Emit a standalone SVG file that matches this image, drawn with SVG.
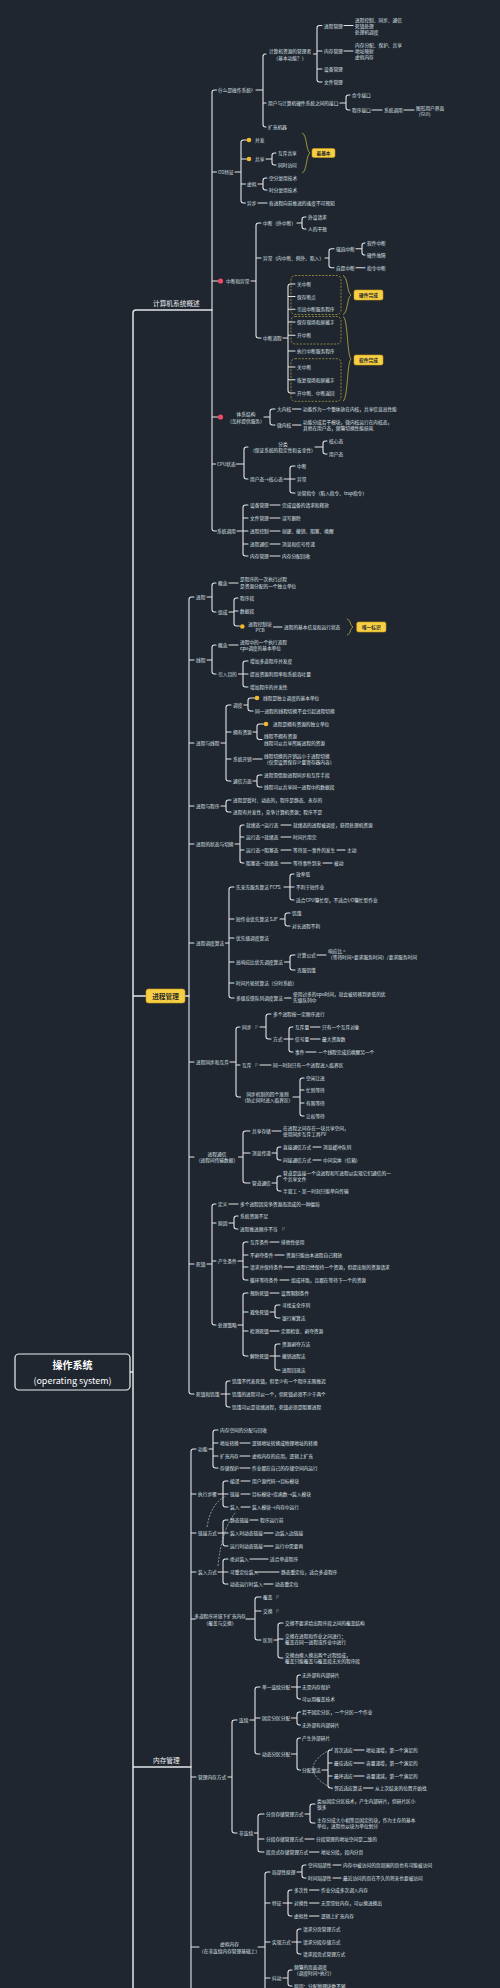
<svg xmlns="http://www.w3.org/2000/svg" width="500" height="1988" viewBox="0 0 500 1988">
<style>
.t{font-family:"Noto Sans CJK SC","Noto Sans",sans-serif;font-size:4.7px;fill:#dfe3e8;dominant-baseline:central}
.c{text-anchor:middle}
.h{font-size:6.7px;fill:#eef0f2}
.ln{fill:none;stroke:#e4e6e9;stroke-width:1.1;stroke-linecap:round}
.mn{fill:none;stroke:#e4e6e9;stroke-width:1.5;stroke-linecap:round}
.tg rect{fill:#f7cf45;stroke:#c99a12;stroke-width:.6}
.tg text{font-family:"Noto Sans CJK SC","Noto Sans",sans-serif;fill:#2b2b2b;font-weight:bold;text-anchor:middle;dominant-baseline:central;font-size:4.7px}
.bc{fill:none;stroke:#b9ae45;stroke-width:.8}
.ds{fill:none;stroke:#b9ae45;stroke-width:.7;stroke-dasharray:2 1.4}
.rl{fill:none;stroke:#c4c8cd;stroke-width:.7;stroke-dasharray:2 1.4}
.yd{fill:#f4b829}
.rd{fill:#ef4b66}
.ic{fill:#8a919a}
</style>
<rect width="500" height="1988" fill="#1f2630"/>

<g id="connectors">
<path class="mn" d="M212,310H136Q133,310 133,313V1988M130,1372H133M133,996H146M185,996H189M133,1767H191"/>
<path class="ln" d="M216.5,90H214.5Q212,90 212,92.5V528.5Q212,531 214.5,531H216.5M212,172H216.5M212,281H217.5M212,417H217.5M212,464H215.5"/>
<path class="ln" d="M256,90H263M266,54H265.5Q263,54 263,56.5V124.5Q263,127 265.5,127H266M263,103H266"/>
<path class="ln" d="M313.5,54H317M322,25.5H319.5Q317,25.5 317,28V79.5Q317,82 319.5,82H322M317,51H322M317,69H322M344,25.5H353M344,51H353"/>
<path class="ln" d="M340,103H346M350,95H348.5Q346,95 346,97.5V107.5Q346,110 348.5,110H350M372,110H382M404,110H414"/>
<path class="ln" d="M235,172H241M246.5,140H243.5Q241,140 241,142.5V200.5Q241,203 243.5,203H245.5M241,159H246.5M241,184H245.5"/>
<path class="ln" d="M266,159H272M276,153H274.5Q272,153 272,155.5V162.5Q272,165 274.5,165H276M258,184H263M267,178H265.5Q263,178 263,180.5V187.5Q263,190 265.5,190H267M258,203H267"/>
<path class="ln" d="M251,281H256M261,223H258.5Q256,223 256,225.5V335.5Q256,338 258.5,338H261M256,258H261M297,223H302M306,217H304.5Q302,217 302,219.5V226.5Q302,229 304.5,229H306M325,258H329M334,248.7H331.5Q329,248.7 329,251.2V265.2Q329,267.7 331.5,267.7H334M356,248.7H362M365,243H364.5Q362,243 362,245.5V252.5Q362,255 364.5,255H365M356,267.7H365"/>
<path class="ln" d="M283,338H288M295,284H290.5Q288,284 288,286.5V390.5Q288,393 290.5,393H295M288,296.5H295M288,309.3H295M288,322H295M288,335.3H295M288,351H295M288,367H295M288,379.7H295"/>
<path class="ln" d="M264,417H270M275,409H272.5Q270,409 270,411.5V422.5Q270,425 272.5,425H275M292.5,409H301M292.5,425H301"/>
<path class="ln" d="M236.5,464H244M248,447H246.5Q244,447 244,449.5V476.5Q244,479 246.5,479H248M315,447H323M327,441H325.5Q323,441 323,443.5V451.5Q323,454 325.5,454H327M284,479H290M295,466H292.5Q290,466 290,468.5V490.5Q290,493 292.5,493H295M290,479H295"/>
<path class="ln" d="M237,531H243M248,505H245.5Q243,505 243,507.5V553.5Q243,556 245.5,556H248M243,518H248M243,531H248M243,544H248M270,505H280M270,518H280M270,531H280M270,544H280M270,556H280"/>
<path class="ln" d="M194,597H191.5Q189,597 189,599.5V1391.5Q189,1394 191.5,1394H194M189,660H194M189,743H194M189,806H194M189,844H194M189,943H194M189,1062H194M189,1157H194M189,1264H194"/>
<path class="ln" d="M207,597H212M216,583H214.5Q212,583 212,585.5V609.5Q212,612 214.5,612H216M229,583H238M229,612H234M238,598H236.5Q234,598 234,600.5V623.5Q234,626 236.5,626H239.5M234,611H238M273.5,627H282"/>
<path class="ln" d="M207,660H212M216,645H214.5Q212,645 212,647.5V671.5Q212,674 214.5,674H216M229,645H238M238.5,674H243M248,661H245.5Q243,661 243,663.5V684.5Q243,687 245.5,687H248M243,674H248"/>
<path class="ln" d="M221,743H226M231,705H228.5Q226,705 226,707.5V778.5Q226,781 228.5,781H231M226,732H231M226,759H231M244,705H248M254.5,698H250.5Q248,698 248,700.5V708.5Q248,711 250.5,711H253M253,732H257M263.5,724H259.5Q257,724 257,726.5V737Q257,739.5 259.5,739.5H262M253,759H262M253,781H257M262,775H259.5Q257,775 257,777.5V784.5Q257,787 259.5,787H262"/>
<path class="ln" d="M221,806H226M231,800H228.5Q226,800 226,802.5V809.5Q226,812 228.5,812H231"/>
<path class="ln" d="M235,844H240M244,825H242.5Q240,825 240,827.5V860.5Q240,863 242.5,863H244M240,837H244M240,850H244M281,825H291M281,837H291M281,850H291M281,863H291M337,850H345M323,863H332"/>
<path class="ln" d="M225.5,943H229M234,887H231.5Q229,887 229,889.5V995.5Q229,998 231.5,998H234M229,919H234M229,938H234M229,962H234M229,983H234M284,887H290M294,874H292.5Q290,874 290,876.5V897.5Q290,900 292.5,900H294M290,887H294M280,919H285M290,913H287.5Q285,913 285,915.5V923.5Q285,926 287.5,926H290M284.5,962H290M295,955H292.5Q290,955 290,957.5V967.5Q290,970 292.5,970H295M317,955H326M284.5,998H291"/>
<path class="ln" d="M230,1062H236M240,1027H238.5Q236,1027 236,1029.5V1094.5Q236,1097 238.5,1097H240.5M236,1065H240M260,1027H266M271,1014H268.5Q266,1014 266,1016.5V1036.5Q266,1039 268.5,1039H271M284,1039H289M293,1027H291.5Q289,1027 289,1029.5V1049.5Q289,1052 291.5,1052H293M289,1039H293M310.5,1027H320M310.5,1039H320M306,1052H316M260,1065H271M293,1097H300M304,1078H302.5Q300,1078 300,1080.5V1113.5Q300,1116 302.5,1116H304M300,1090H304M300,1103H304"/>
<path class="ln" d="M238.5,1157H243M250,1131H245.5Q243,1131 243,1133.5V1180.5Q243,1183 245.5,1183H250M243,1153H250M272,1131H281M272,1153H277M281,1147H279.5Q277,1147 277,1149.5V1157.5Q277,1160 279.5,1160H281M313,1147H321M313,1160H321M272,1183H277M281,1176H279.5Q277,1176 277,1178.5V1188.5Q277,1191 279.5,1191H281"/>
<path class="ln" d="M207,1264H212M216,1204H214.5Q212,1204 212,1206.5V1322.5Q212,1325 214.5,1325H216M212,1223H216M212,1261H216M229,1204H238M229,1223H234M238,1216H236.5Q234,1216 234,1218.5V1226.5Q234,1229 236.5,1229H238M238,1261H243M248,1242H245.5Q243,1242 243,1244.5V1277.5Q243,1280 245.5,1280H248M243,1255H248M243,1267H248M270,1242H279M275,1255H284M284,1267H294M280,1280H289"/>
<path class="ln" d="M238,1325H243M248,1293H245.5Q243,1293 243,1295.5V1353.5Q243,1356 245.5,1356H248M243,1312H248M243,1331H248M270,1293H279M270,1312H275M280,1305H277.5Q275,1305 275,1307.5V1315.5Q275,1318 277.5,1318H280M270,1331H279M270,1356H275M280,1344H277.5Q275,1344 275,1346.5V1367.5Q275,1370 277.5,1370H280M275,1356H280"/>
<path class="ln" d="M221,1394H226M230,1381H228.5Q226,1381 226,1383.5V1404.5Q226,1407 228.5,1407H230M226,1394H230"/>
<path class="ln" d="M196,1449H193.5Q191,1449 191,1451.5V1988M191,1494H196M191,1533H196M191,1572H196M191,1619H195M191,1777H196M191,1947H199"/>
<path class="ln" d="M209,1449H213M218,1430H215.5Q213,1430 213,1432.5V1465.5Q213,1468 215.5,1468H218M213,1443H218M213,1456H218M240,1443H250M240,1456H250M240,1468H250"/>
<path class="ln" d="M218,1494H223M228,1481H225.5Q223,1481 223,1483.5V1504.5Q223,1507 225.5,1507H228M223,1494H228M241,1481H250M241,1494H250M241,1507H250"/>
<path class="ln" d="M218,1533H223M228,1520H225.5Q223,1520 223,1522.5V1543.5Q223,1546 225.5,1546H228M223,1533H228M250,1520H258M264,1533H273M264,1546H273"/>
<path class="ln" d="M218,1572H223M228,1559H225.5Q223,1559 223,1561.5V1581.5Q223,1584 225.5,1584H228M223,1572H228M250,1559H268M255,1572H279M264,1584H273"/>
<path class="ln" d="M246,1619H255M261,1597H257.5Q255,1597 255,1599.5V1637.5Q255,1640 257.5,1640H261M255,1611H261M274,1640H278M283,1623H280.5Q278,1623 278,1625.5V1655.5Q278,1658 280.5,1658H283M278,1639H283"/>
<path class="ln" d="M228,1777H232M237,1720H234.5Q232,1720 232,1722.5V1830.5Q232,1833 234.5,1833H237M250,1720H255M260,1687H257.5Q255,1687 255,1689.5V1751.5Q255,1754 257.5,1754H260M255,1718H260"/>
<path class="ln" d="M291.5,1687H297M300.5,1675H299.5Q297,1675 297,1677.5V1696.5Q297,1699 299.5,1699H300.5M297,1687H300.5M291.5,1718H297M300.5,1712H299.5Q297,1712 297,1714.5V1722.5Q297,1725 299.5,1725H300.5M291.5,1754H297M300.5,1738H299.5Q297,1738 297,1740.5V1767.5Q297,1770 299.5,1770H300.5"/>
<path class="ln" d="M322,1770H328M332,1750H330.5Q328,1750 328,1752.5V1785.5Q328,1788 330.5,1788H332M328,1763H332M328,1776H332M354,1750H364M354,1763H364M354,1776H364M363.5,1788H373"/>
<path class="ln" d="M254.5,1833H258M264,1814H260.5Q258,1814 258,1816.5V1849.5Q258,1852 260.5,1852H264M258,1839H264M305,1814H310M315,1804H312.5Q310,1804 310,1806.5V1820.5Q310,1823 312.5,1823H315M305,1839H314M309.5,1852H319"/>
<path class="ln" d="M258,1947H265M270,1872H267.5Q265,1872 265,1874.5V1988M265,1903H270M265,1942H270M265,1978H270M297,1872H302M306,1865H304.5Q302,1865 302,1867.5V1875.5Q302,1878 304.5,1878H306M333,1865H341M333,1878H341"/>
<path class="ln" d="M283,1903H288M292,1890H290.5Q288,1890 288,1892.5V1913.5Q288,1916 290.5,1916H292M288,1903H292M309.5,1890H319M309.5,1903H319M309.5,1916H319M292,1942H297M301,1929H299.5Q297,1929 297,1931.5V1951.5Q297,1954 299.5,1954H301M297,1942H301M283,1978H288M292,1970H290.5Q288,1970 288,1972.5V1983.5Q288,1986 290.5,1986H292"/>
<path class="rl" d="M207,1527Q211,1503 226,1496M218,1566Q222,1528 236,1512M333,1748Q293,1768.5 333,1789"/>
</g>

<g id="decor">
<path class="bc" d="M302,133C307,134 306,151 310,153C306,155 307,172 302,173"/>
<rect class="ds" x="291" y="275.5" width="50" height="39" rx="4"/>
<rect class="ds" x="291" y="316.5" width="50" height="27.5" rx="4"/>
<rect class="ds" x="291" y="358.7" width="50" height="42.6" rx="4"/>
<path class="bc" d="M343,275.5C348,277 347,293 351,295C347,297 348,313 343,314.5"/>
<path class="bc" d="M343,316.5C348,318 347,356 351,359C347,362 348,399 343,401"/>
<path class="bc" d="M347,619C351,620 350,626 353,627C350,628 351,634 347,635"/>
</g>

<g id="root"><rect x="15" y="1354" width="115" height="36" rx="4" fill="#1f2630" stroke="#eef0f2" stroke-width="1.2"/><text class="t c" x="72.5" y="1364.5" style="font-size:10px;font-weight:bold;fill:#fff">操作系统</text><text class="t c" x="72.5" y="1380" style="font-size:9px;fill:#fff">(operating system)</text></g>

<g id="b-overview"><text class="t h" x="153" y="302.5">计算机系统概述</text></g>
<g id="b-process" class="tg"><rect x="146" y="989" width="39" height="14" rx="2.5"/><text x="165.5" y="996" style="font-size:6.7px">进程管理</text></g>
<g id="b-memory"><text class="t h" x="153" y="1759.5">内存管理</text></g>

<g id="a1"><text class="t" x="218" y="90">什么是操作系统?</text></g>
<g id="a1a"><text class="t c"><tspan x="290" y="51">计算机资源的管理者</tspan><tspan x="290" y="57.5">（基本功能？）</tspan></text></g>
<g id="a1a1"><text class="t" x="324" y="25.5">进程管理</text></g>
<g id="a1a1x"><text class="t"><tspan x="355" y="19.5">进程控制、同步、通信</tspan><tspan x="355" y="25.5">死锁处理</tspan><tspan x="355" y="31.5">处理机调度</tspan></text></g>
<g id="a1a2"><text class="t" x="324" y="51">内存管理</text></g>
<g id="a1a2x"><text class="t"><tspan x="355" y="44.5">内存分配、保护、共享</tspan><tspan x="355" y="50.7">地址映射</tspan><tspan x="355" y="56.9">虚拟内存</tspan></text></g>
<g id="a1a3"><text class="t" x="324" y="69">设备管理</text></g>
<g id="a1a4"><text class="t" x="324" y="82">文件管理</text></g>
<g id="a1b"><text class="t" x="268" y="103">用户与计算机硬件系统之间的接口</text></g>
<g id="a1b1"><text class="t" x="352" y="95">命令接口</text></g>
<g id="a1b2"><text class="t" x="352" y="110">程序接口</text></g>
<g id="a1b3"><text class="t" x="384" y="110">系统调用</text></g>
<g id="a1b4"><text class="t"><tspan x="416" y="108">图形用户界面</tspan><tspan x="416" y="114.3">（GUI）</tspan></text></g>
<g id="a1c"><text class="t" x="268" y="127">扩充机器</text></g>
<g id="a2"><text class="t" x="218" y="172">OS特征</text></g>
<g id="a2a"><circle class="yd" cx="249" cy="140" r="2.3"/><text class="t" x="255" y="140">并发</text></g>
<g id="a2b"><circle class="yd" cx="249" cy="159" r="2.3"/><text class="t" x="255" y="159">共享</text></g>
<g id="a2b1"><text class="t" x="278" y="153">互斥共享</text></g>
<g id="a2b2"><text class="t" x="278" y="165">同时访问</text></g>
<g id="tag1" class="tg"><rect x="312" y="148.5" width="23" height="9" rx="1.8"/><text x="323.5" y="153">最基本</text></g>
<g id="a2c"><text class="t" x="247" y="184">虚拟</text></g>
<g id="a2c1"><text class="t" x="269" y="178">空分复用技术</text></g>
<g id="a2c2"><text class="t" x="269" y="190">时分复用技术</text></g>
<g id="a2d"><text class="t" x="247" y="203">异步</text></g>
<g id="a2d1"><text class="t" x="269" y="203">各进程向前推进的速度不可预知</text></g>
<g id="a3"><circle class="rd" cx="220.5" cy="281" r="2.6"/><text class="t" x="226" y="281">中断和异常</text></g>
<g id="a3a"><text class="t" x="263" y="223">中断（外中断）</text></g>
<g id="a3a1"><text class="t" x="308" y="217">外设请求</text></g>
<g id="a3a2"><text class="t" x="308" y="229">人的干预</text></g>
<g id="a3b"><text class="t" x="263" y="258">异常（内中断、例外、陷入）</text></g>
<g id="a3b1"><text class="t" x="336" y="248.7">强迫中断</text></g>
<g id="a3b1a"><text class="t" x="367" y="243">软件中断</text></g>
<g id="a3b1b"><text class="t" x="367" y="255">硬件故障</text></g>
<g id="a3b2"><text class="t" x="336" y="267.7">自愿中断</text></g>
<g id="a3b2a"><text class="t" x="367" y="267.7">指令中断</text></g>
<g id="a3c"><text class="t" x="263" y="338">中断流程</text></g>
<g id="a3c1"><text class="t" x="297" y="284">关中断</text></g>
<g id="a3c2"><text class="t" x="297" y="296.5">保存断点</text></g>
<g id="a3c3"><text class="t" x="297" y="309.3">引出中断服务程序</text></g>
<g id="a3c4"><text class="t" x="297" y="322">保存现场和屏蔽字</text></g>
<g id="a3c5"><text class="t" x="297" y="335.3">开中断</text></g>
<g id="a3c6"><text class="t" x="297" y="351">执行中断服务程序</text></g>
<g id="a3c7"><text class="t" x="297" y="367">关中断</text></g>
<g id="a3c8"><text class="t" x="297" y="379.7">恢复现场和屏蔽字</text></g>
<g id="a3c9"><text class="t" x="297" y="393">开中断、中断返回</text></g>
<g id="tag2" class="tg"><rect x="354" y="290" width="29" height="10" rx="1.8"/><text x="368.5" y="295">硬件完成</text></g>
<g id="tag3" class="tg"><rect x="354" y="355" width="29" height="10" rx="1.8"/><text x="368.5" y="360">软件完成</text></g>
<g id="a4"><circle class="rd" cx="220.5" cy="417" r="2.6"/><text class="t c"><tspan x="246" y="414">体系结构</tspan><tspan x="246" y="420.6">（怎样提供服务）</tspan></text></g>
<g id="a4a"><text class="t" x="277" y="409">大内核</text></g>
<g id="a4a1"><text class="t" x="303" y="409">功能作为一个整体放在内核，共享信息高性能</text></g>
<g id="a4b"><text class="t" x="277" y="425">微内核</text></g>
<g id="a4b1"><text class="t"><tspan x="303" y="421.7">功能分成若干模块，微内核运行在内核态，</tspan><tspan x="303" y="428.3">其他在用户态，频繁切换性能损耗</tspan></text></g>
<g id="a5"><text class="t" x="217" y="464">CPU状态</text></g>
<g id="a5a"><text class="t c"><tspan x="283" y="443.5">分类</tspan><tspan x="283" y="450">（保证系统的稳定性和安全性）</tspan></text></g>
<g id="a5a1"><text class="t" x="329" y="441">核心态</text></g>
<g id="a5a2"><text class="t" x="329" y="454">用户态</text></g>
<g id="a5b"><text class="t" x="250" y="479">用户态→核心态</text></g>
<g id="a5b1"><text class="t" x="297" y="466">中断</text></g>
<g id="a5b2"><text class="t" x="297" y="479">异常</text></g>
<g id="a5b3"><text class="t" x="297" y="493">访管指令（陷入指令、trap指令）</text></g>
<g id="a6"><text class="t" x="217" y="531">系统调用</text></g>
<g id="a6a"><text class="t" x="250" y="505">设备管理</text></g>
<g id="a6a1"><text class="t" x="282" y="505">完成设备的请求和释放</text></g>
<g id="a6b"><text class="t" x="250" y="518">文件管理</text></g>
<g id="a6b1"><text class="t" x="282" y="518">读写删除</text></g>
<g id="a6c"><text class="t" x="250" y="531">进程控制</text></g>
<g id="a6c1"><text class="t" x="282" y="531">创建、撤销、阻塞、唤醒</text></g>
<g id="a6d"><text class="t" x="250" y="544">进程通信</text></g>
<g id="a6d1"><text class="t" x="282" y="544">消息和信号传递</text></g>
<g id="a6e"><text class="t" x="250" y="556">内存管理</text></g>
<g id="a6e1"><text class="t" x="282" y="556">内存分配回收</text></g>

<g id="p1"><text class="t" x="196" y="597">进程</text></g>
<g id="p1a"><text class="t" x="218" y="583">概念</text></g>
<g id="p1a1"><text class="t"><tspan x="240" y="579">是程序的一次执行过程</tspan><tspan x="240" y="585.5">是资源分配的一个独立单位</tspan></text></g>
<g id="p1b"><text class="t" x="218" y="612">组成</text></g>
<g id="p1b1"><text class="t" x="240" y="598">程序段</text></g>
<g id="p1b2"><text class="t" x="240" y="611">数据段</text></g>
<g id="p1b3"><circle class="yd" cx="242.3" cy="626.5" r="2.3"/><text class="t c"><tspan x="260" y="624">进程控制块</tspan><tspan x="260" y="630.3">PCB</tspan></text></g>
<g id="p1b3a"><text class="t" x="284" y="627">进程的基本信息和运行状态</text></g>
<g id="tag4" class="tg"><rect x="356.7" y="622" width="29.3" height="10" rx="1.8"/><text x="371.3" y="627">唯一标识</text></g>
<g id="p2"><text class="t" x="196" y="660">线程</text></g>
<g id="p2a"><text class="t" x="218" y="645">概念</text></g>
<g id="p2a1"><text class="t"><tspan x="240" y="642">进程中的一个执行流程</tspan><tspan x="240" y="648.3">cpu调度的基本单位</tspan></text></g>
<g id="p2b"><text class="t" x="218" y="674">引入目的</text></g>
<g id="p2b1"><text class="t" x="250" y="661">增加多道程序并发度</text></g>
<g id="p2b2"><text class="t" x="250" y="674">提高资源利用率和系统吞吐量</text></g>
<g id="p2b3"><text class="t" x="250" y="687">增加程序的并发性</text></g>
<g id="p3"><text class="t" x="196" y="743">进程与线程</text></g>
<g id="p3a"><text class="t" x="233" y="705">调度</text></g>
<g id="p3a1"><circle class="yd" cx="257" cy="698" r="2.3"/><text class="t" x="263" y="698">线程是独立调度的基本单位</text></g>
<g id="p3a2"><text class="t" x="255" y="711">同一进程的线程切换不会引起进程切换</text></g>
<g id="p3b"><text class="t" x="233" y="732">拥有资源</text></g>
<g id="p3b1"><circle class="yd" cx="266" cy="724" r="2.3"/><text class="t" x="273" y="724">进程是拥有资源的独立单位</text></g>
<g id="p3b2"><text class="t"><tspan x="264" y="736.3">线程不拥有资源</tspan><tspan x="264" y="742.7">线程可以共享所属进程的资源</tspan></text></g>
<g id="p3c"><text class="t" x="233" y="759">系统开销</text></g>
<g id="p3c1"><text class="t"><tspan x="264" y="755.5">线程切换的开销远小于进程切换</tspan><tspan x="264" y="762">（仅需设置保存少量寄存器内容）</tspan></text></g>
<g id="p3d"><text class="t" x="233" y="781">通信方面</text></g>
<g id="p3d1"><text class="t" x="264" y="775">进程需借助进程同步和互斥手段</text></g>
<g id="p3d2"><text class="t" x="264" y="787">线程可以共享同一进程中的数据段</text></g>
<g id="p4"><text class="t" x="196" y="806">进程与程序</text></g>
<g id="p4a"><text class="t" x="233" y="800">进程是暂时、动态的，程序是静态、永存的</text></g>
<g id="p4b"><text class="t" x="233" y="812">进程有并发性，竞争计算机资源；程序不是</text></g>
<g id="p5"><text class="t" x="196" y="844">进程的状态与切换</text></g>
<g id="p5a"><text class="t" x="246" y="825">就绪态-&gt;运行态</text></g>
<g id="p5a1"><text class="t" x="293" y="825">就绪态的进程被调度，获得处理机资源</text></g>
<g id="p5b"><text class="t" x="246" y="837">运行态-&gt;就绪态</text></g>
<g id="p5b1"><text class="t" x="293" y="837">时间片用完</text></g>
<g id="p5c"><text class="t" x="246" y="850">运行态-&gt;阻塞态</text></g>
<g id="p5c1"><text class="t" x="293" y="850">等待某一事件的发生</text></g>
<g id="p5c2"><text class="t" x="347" y="850">主动</text></g>
<g id="p5d"><text class="t" x="246" y="863">阻塞态-&gt;就绪态</text></g>
<g id="p5d1"><text class="t" x="293" y="863">等待事件到来</text></g>
<g id="p5d2"><text class="t" x="334" y="863">被动</text></g>
<g id="p6"><text class="t" x="196" y="943">进程调度算法</text></g>
<g id="p6a"><text class="t" x="236" y="887">先来先服务算法 FCFS</text></g>
<g id="p6a1"><text class="t" x="296" y="874">效率低</text></g>
<g id="p6a2"><text class="t" x="296" y="887">不利于短作业</text></g>
<g id="p6a3"><text class="t" x="296" y="900">适合CPU繁忙型，不适合I/O繁忙型作业</text></g>
<g id="p6b"><text class="t" x="236" y="919">短作业优先算法 SJF</text></g>
<g id="p6b1"><text class="t" x="292" y="913">饥饿</text></g>
<g id="p6b2"><text class="t" x="292" y="926">对长进程不利</text></g>
<g id="p6c"><text class="t" x="236" y="938">优先级调度算法</text></g>
<g id="p6d"><text class="t" x="236" y="962">高响应比优先调度算法</text></g>
<g id="p6d1"><text class="t" x="297" y="955">计算公式</text></g>
<g id="p6d1a"><text class="t"><tspan x="328" y="951">响应比 =</tspan><tspan x="328" y="957.3">（等待时间+要求服务时间）/要求服务时间</tspan></text></g>
<g id="p6d2"><text class="t" x="297" y="970">克服饥饿</text></g>
<g id="p6e"><text class="t" x="236" y="983">时间片轮转算法（分时系统）</text></g>
<g id="p6f"><text class="t" x="236" y="998">多级反馈队列调度算法</text></g>
<g id="p6f1"><text class="t"><tspan x="293" y="994">使用过多的cpu时间，就会被转移到更低的优</tspan><tspan x="293" y="1000.3">先级队列中</tspan></text></g>
<g id="p7"><text class="t" x="196" y="1062">进程同步和互斥</text></g>
<g id="p7a"><text class="t" x="242" y="1027">同步</text><text class="t ic" x="255" y="1027">P</text></g>
<g id="p7a1"><text class="t" x="273" y="1014">多个进程按一定顺序进行</text></g>
<g id="p7a2"><text class="t" x="273" y="1039">方式</text></g>
<g id="p7a2a"><text class="t" x="295" y="1027">互斥量</text></g>
<g id="p7a2a1"><text class="t" x="322" y="1027">只有一个互斥对象</text></g>
<g id="p7a2b"><text class="t" x="295" y="1039">信号量</text></g>
<g id="p7a2b1"><text class="t" x="322" y="1039">最大资源数</text></g>
<g id="p7a2c"><text class="t" x="295" y="1052">事件</text></g>
<g id="p7a2c1"><text class="t" x="318" y="1052">一个线程完成后唤醒另一个</text></g>
<g id="p7b"><text class="t" x="242" y="1065">互斥</text><text class="t ic" x="255" y="1065">P</text></g>
<g id="p7b1"><text class="t" x="273" y="1065">同一时刻只有一个进程进入临界区</text></g>
<g id="p7c"><text class="t c"><tspan x="267.5" y="1094">同步机制的四个准则</tspan><tspan x="267.5" y="1100.3">（防止同时进入临界区）</tspan></text></g>
<g id="p7c1"><text class="t" x="306" y="1078">空闲让进</text></g>
<g id="p7c2"><text class="t" x="306" y="1090">忙则等待</text></g>
<g id="p7c3"><text class="t" x="306" y="1103">有限等待</text></g>
<g id="p7c4"><text class="t" x="306" y="1116">让权等待</text></g>
<g id="p8"><text class="t c"><tspan x="217" y="1154">进程通信</tspan><tspan x="217" y="1160.3">（进程间传输数据）</tspan></text></g>
<g id="p8a"><text class="t" x="252" y="1131">共享存储</text></g>
<g id="p8a1"><text class="t"><tspan x="283" y="1128">在进程之间存在一块共享空间，</tspan><tspan x="283" y="1134.3">使用同步互斥工具PV</tspan></text></g>
<g id="p8b"><text class="t" x="252" y="1153">消息传递</text></g>
<g id="p8b1"><text class="t" x="283" y="1147">直接通信方式</text></g>
<g id="p8b1a"><text class="t" x="323" y="1147">消息缓冲队列</text></g>
<g id="p8b2"><text class="t" x="283" y="1160">间接通信方式</text></g>
<g id="p8b2a"><text class="t" x="323" y="1160">中间实体（信箱）</text></g>
<g id="p8c"><text class="t" x="252" y="1183">管道通信</text></g>
<g id="p8c1"><text class="t"><tspan x="283" y="1173">管道是连接一个读进程和写进程以实现它们通信的一</tspan><tspan x="283" y="1179.3">个共享文件</tspan></text></g>
<g id="p8c2"><text class="t" x="283" y="1191">半双工·某一时刻只能单向传输</text></g>
<g id="p9"><text class="t" x="196" y="1264">死锁</text></g>
<g id="p9a"><text class="t" x="218" y="1204">定义</text></g>
<g id="p9a1"><text class="t" x="240" y="1204">多个进程因竞争资源而造成的一种僵局</text></g>
<g id="p9b"><text class="t" x="218" y="1223">原因</text></g>
<g id="p9b1"><text class="t" x="240" y="1216">系统资源不足</text></g>
<g id="p9b2"><text class="t" x="240" y="1229">进程推进顺序不当</text><text class="t ic" x="282" y="1229">P</text></g>
<g id="p9c"><text class="t" x="218" y="1261">产生条件</text></g>
<g id="p9c1"><text class="t" x="250" y="1242">互斥条件</text></g>
<g id="p9c1a"><text class="t" x="281" y="1242">排他性使用</text></g>
<g id="p9c2"><text class="t" x="250" y="1255">不剥夺条件</text></g>
<g id="p9c2a"><text class="t" x="286" y="1255">资源只能由本进程自己释放</text></g>
<g id="p9c3"><text class="t" x="250" y="1267">请求并保持条件</text></g>
<g id="p9c3a"><text class="t" x="296" y="1267">进程已经保持一个资源，但提出新的资源请求</text></g>
<g id="p9c4"><text class="t" x="250" y="1280">循环等待条件</text></g>
<g id="p9c4a"><text class="t" x="291" y="1280">组成环路，且都在等待下一个的资源</text></g>
<g id="p9d"><text class="t" x="218" y="1325">处理策略</text></g>
<g id="p9d1"><text class="t" x="250" y="1293">预防死锁</text></g>
<g id="p9d1a"><text class="t" x="281" y="1293">设置限制条件</text></g>
<g id="p9d2"><text class="t" x="250" y="1312">避免死锁</text></g>
<g id="p9d2a"><text class="t" x="282" y="1305">寻找安全序列</text></g>
<g id="p9d2b"><text class="t" x="282" y="1318">银行家算法</text></g>
<g id="p9d3"><text class="t" x="250" y="1331">检测死锁</text></g>
<g id="p9d3a"><text class="t" x="281" y="1331">定期检查、剥夺资源</text></g>
<g id="p9d4"><text class="t" x="250" y="1356">解除死锁</text></g>
<g id="p9d4a"><text class="t" x="282" y="1344">资源剥夺方法</text></g>
<g id="p9d4b"><text class="t" x="282" y="1356">撤销进程法</text></g>
<g id="p9d4c"><text class="t" x="282" y="1370">进程回退法</text></g>
<g id="p10"><text class="t" x="196" y="1394">死锁和饥饿</text></g>
<g id="p10a"><text class="t" x="232" y="1381">饥饿不代表死锁，但至少有一个程序无限推迟</text></g>
<g id="p10b"><text class="t" x="232" y="1394">饥饿的进程可以一个，但死锁必须不少于两个</text></g>
<g id="p10c"><text class="t" x="232" y="1407">饥饿可以是就绪进程，死锁必须是阻塞进程</text></g>

<g id="m1"><text class="t" x="198" y="1449">功能</text></g>
<g id="m1a"><text class="t" x="220" y="1430">内存空间的分配与回收</text></g>
<g id="m1b"><text class="t" x="220" y="1443">地址转换</text></g>
<g id="m1b1"><text class="t" x="252" y="1443">逻辑地址转换成物理地址的转换</text></g>
<g id="m1c"><text class="t" x="220" y="1456">扩充内存</text></g>
<g id="m1c1"><text class="t" x="252" y="1456">虚拟内存的应用，逻辑上扩充</text></g>
<g id="m1d"><text class="t" x="220" y="1468">存储保护</text></g>
<g id="m1d1"><text class="t" x="252" y="1468">作业都在自己的存储空间内运行</text></g>
<g id="m2"><text class="t" x="198" y="1494">执行步骤</text></g>
<g id="m2a"><text class="t" x="230" y="1481">编译</text></g>
<g id="m2a1"><text class="t" x="252" y="1481">用户源代码→目标模块</text></g>
<g id="m2b"><text class="t" x="230" y="1494">链接</text></g>
<g id="m2b1"><text class="t" x="252" y="1494">目标模块+库函数→装入模块</text></g>
<g id="m2c"><text class="t" x="230" y="1507">装入</text></g>
<g id="m2c1"><text class="t" x="252" y="1507">装入模块→内存中运行</text></g>
<g id="m3"><text class="t" x="198" y="1533">链接方式</text></g>
<g id="m3a"><text class="t" x="230" y="1520">静态链接</text></g>
<g id="m3a1"><text class="t" x="260" y="1520">程序运行前</text></g>
<g id="m3b"><text class="t" x="230" y="1533">装入时动态链接</text></g>
<g id="m3b1"><text class="t" x="275" y="1533">边装入边链接</text></g>
<g id="m3c"><text class="t" x="230" y="1546">运行时动态链接</text></g>
<g id="m3c1"><text class="t" x="275" y="1546">运行中需要再</text></g>
<g id="m4"><text class="t" x="198" y="1572">装入方式</text></g>
<g id="m4a"><text class="t" x="230" y="1559">绝对装入</text></g>
<g id="m4a1"><text class="t" x="270" y="1559">适合单道程序</text></g>
<g id="m4b"><text class="t" x="230" y="1572">可重定位装入</text></g>
<g id="m4b1"><text class="t" x="281" y="1572">静态重定位，适合多道程序</text></g>
<g id="m4c"><text class="t" x="230" y="1584">动态运行时装入</text></g>
<g id="m4c1"><text class="t" x="275" y="1584">动态重定位</text></g>
<g id="m5"><text class="t c"><tspan x="220" y="1616">多道程序环境下扩充内存</tspan><tspan x="220" y="1622.5">（覆盖与交换）</tspan></text></g>
<g id="m5a"><text class="t" x="263" y="1597">覆盖</text><text class="t ic" x="276" y="1597">P</text></g>
<g id="m5b"><text class="t" x="263" y="1611">交换</text><text class="t ic" x="276" y="1611">P</text></g>
<g id="m5c"><text class="t" x="263" y="1640">区别</text></g>
<g id="m5c1"><text class="t" x="285" y="1623">交换不要求给出程序段之间的覆盖结构</text></g>
<g id="m5c2"><text class="t"><tspan x="285" y="1636">交换在进程和作业之间进行；</tspan><tspan x="285" y="1642.3">覆盖在同一进程或作业中进行</tspan></text></g>
<g id="m5c3"><text class="t"><tspan x="285" y="1655">交换由换入换出两个过程组成，</tspan><tspan x="285" y="1661.3">覆盖只能覆盖与覆盖段无关的程序段</tspan></text></g>
<g id="m6"><text class="t" x="198" y="1777">管理内存方式</text></g>
<g id="m6a"><text class="t" x="239" y="1720">连续</text></g>
<g id="m6a1"><text class="t" x="262" y="1687">单一连续分配</text></g>
<g id="m6a1a"><text class="t" x="302" y="1675">无外部有内部碎片</text></g>
<g id="m6a1b"><text class="t" x="302" y="1687">无需内存保护</text></g>
<g id="m6a1c"><text class="t" x="302" y="1699">可以用覆盖技术</text></g>
<g id="m6a2"><text class="t" x="262" y="1718">固定分区分配</text></g>
<g id="m6a2a"><text class="t" x="302" y="1712">若干固定分区，一个分区一个作业</text></g>
<g id="m6a2b"><text class="t" x="302" y="1725">无外部有内部碎片</text></g>
<g id="m6a3"><text class="t" x="262" y="1754">动态分区分配</text></g>
<g id="m6a3a"><text class="t" x="302" y="1738">产生外部碎片</text></g>
<g id="m6a3b"><text class="t" x="302" y="1770">分配算法</text></g>
<g id="m6a3b1"><text class="t" x="334" y="1750">首次适应</text></g>
<g id="m6a3b1a"><text class="t" x="366" y="1750">地址递增，第一个满足的</text></g>
<g id="m6a3b2"><text class="t" x="334" y="1763">最佳适应</text></g>
<g id="m6a3b2a"><text class="t" x="366" y="1763">容量递增，第一个满足的</text></g>
<g id="m6a3b3"><text class="t" x="334" y="1776">最坏适应</text></g>
<g id="m6a3b3a"><text class="t" x="366" y="1776">容量递减，第一个满足的</text></g>
<g id="m6a3b4"><text class="t" x="334" y="1788">邻近适应算法</text></g>
<g id="m6a3b4a"><text class="t" x="375" y="1788">从上次结束的位置开始找</text></g>
<g id="m6b"><text class="t" x="239" y="1833">非连续</text></g>
<g id="m6b1"><text class="t" x="266" y="1814">分页存储管理方式</text></g>
<g id="m6b1a"><text class="t"><tspan x="317" y="1801">类似固定分区技术，产生内部碎片，但碎片区小</tspan><tspan x="317" y="1807.3">很多</tspan></text></g>
<g id="m6b1b"><text class="t"><tspan x="317" y="1820">主存分成大小相等且固定的块，作为主存的基本</tspan><tspan x="317" y="1826.3">单位，进程也以块为单位划分</tspan></text></g>
<g id="m6b2"><text class="t" x="266" y="1839">分段存储管理方式</text></g>
<g id="m6b2a"><text class="t" x="316" y="1839">分段管理的地址空间是二维的</text></g>
<g id="m6b3"><text class="t" x="266" y="1852">段页式存储管理方式</text></g>
<g id="m6b3a"><text class="t" x="321" y="1852">地址分段，段内分页</text></g>
<g id="m7"><text class="t c"><tspan x="229.5" y="1944">虚拟内存</tspan><tspan x="229.5" y="1950.5">（在非连续内存管理基础上）</tspan></text></g>
<g id="m7a"><text class="t" x="272" y="1872">局部性原理</text></g>
<g id="m7a1"><text class="t" x="308" y="1865">空间局部性</text></g>
<g id="m7a1a"><text class="t" x="343" y="1865">内存中被访问的页周围的页也有可能被访问</text></g>
<g id="m7a2"><text class="t" x="308" y="1878">时间局部性</text></g>
<g id="m7a2a"><text class="t" x="343" y="1878">最近访问的页在不久的将来也要被访问</text></g>
<g id="m7b"><text class="t" x="272" y="1903">特征</text></g>
<g id="m7b1"><text class="t" x="294" y="1890">多次性</text></g>
<g id="m7b1a"><text class="t" x="321" y="1890">作业分成多次调入内存</text></g>
<g id="m7b2"><text class="t" x="294" y="1903">对换性</text></g>
<g id="m7b2a"><text class="t" x="321" y="1903">无需常驻内存，可以换进换出</text></g>
<g id="m7b3"><text class="t" x="294" y="1916">虚拟性</text></g>
<g id="m7b3a"><text class="t" x="321" y="1916">逻辑上扩充内存</text></g>
<g id="m7c"><text class="t" x="272" y="1942">实现方式</text></g>
<g id="m7c1"><text class="t" x="303" y="1929">请求分页管理方式</text></g>
<g id="m7c2"><text class="t" x="303" y="1942">请求分段存储方式</text></g>
<g id="m7c3"><text class="t" x="303" y="1954">请求段页式管理方式</text></g>
<g id="m7d"><text class="t" x="272" y="1978">抖动</text></g>
<g id="m7d1"><text class="t"><tspan x="294" y="1967">频繁的页面调度</tspan><tspan x="294" y="1973.3">（调度时间&gt;执行）</tspan></text></g>
<g id="m7d2"><text class="t" x="294" y="1986">原因：分配物理块数不够</text></g>
</svg>
